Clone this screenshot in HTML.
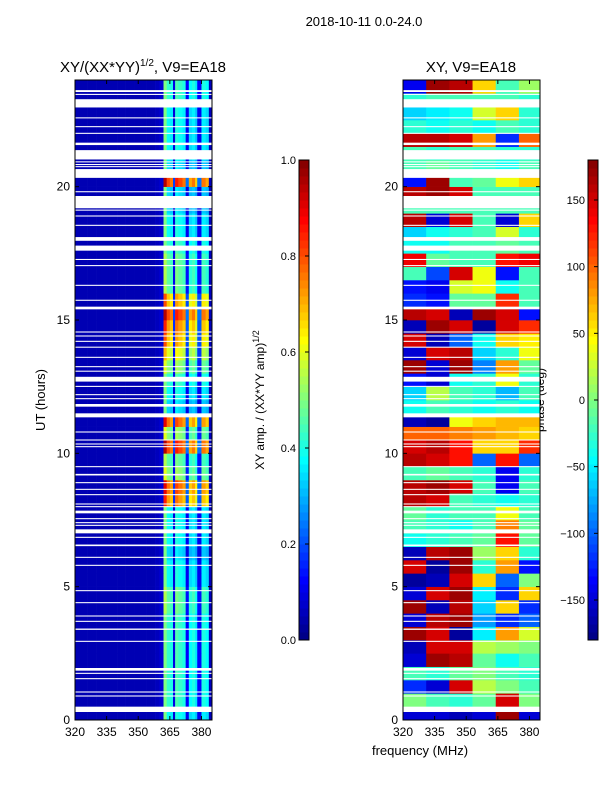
<!DOCTYPE html>
<html><head><meta charset="utf-8">
<style>
html,body{margin:0;padding:0;background:#fff;}
svg{display:block;font-family:"Liberation Sans",sans-serif;}
</style></head>
<body>
<svg id="fig" width="600" height="800" viewBox="0 0 600 800">
<text x="364" y="26" font-size="13" text-anchor="middle">2018-10-11 0.0-24.0</text>
<text x="143" y="72" font-size="15" text-anchor="middle">XY/(XX*YY)<tspan font-size="10" dy="-6">1/2</tspan><tspan dy="6">, V9=EA18</tspan></text>
<text x="471" y="72" font-size="15" text-anchor="middle">XY, V9=EA18</text>
<text transform="translate(45,400) rotate(-90)" font-size="13" text-anchor="middle">UT (hours)</text>
<text x="420" y="755" font-size="13" text-anchor="middle">frequency (MHz)</text>
<text transform="translate(264,400) rotate(-90)" font-size="12" text-anchor="middle">XY amp. / (XX*YY amp)<tspan font-size="9" dy="-5">1/2</tspan></text>
<text transform="translate(544,400) rotate(-90)" font-size="12" text-anchor="middle">phase (deg)</text>
<g id="left"></g>
<g id="right"></g>
<g id="axes"></g>
</svg>
<script>
// ---- data ----
const freqEdges = [320,322,324,326,328,330,332,334,336,338,340,342,344,346,348,350,352,354,356,358,360,362,363.5,365,366.5,367.5,369,371,372.5,374,375.5,377,378,380,382,383.5,385];
const leftProfile = [0.05,0.05,0.05,0.05,0.05,0.05,0.05,0.05,0.05,0.05,0.05,0.05,0.05,0.05,0.05,0.05,0.05,0.05,0.05,0.06,0.08,1.0,0.85,0.8,0.2,0.9,0.85,0.8,0.25,0.75,0.8,0.7,0.25,0.8,0.75,0.06];
const leftAmp = [0.45,0.5,0.5,0.5,0.5,0.5,0.5,0.5,0.55,0.55,0.45,0.45,0.4,0.45,0.45,0.45,0.85,0.9,0.6,0.55,0.95,0.6,0.9,0.4,0.45,0.5,0.6,0.7,0.8,0.85,0.95,0.8,0.55,0.55,0.55,0.5,0.45,0.45,0.4,0.4,0.95,0.4,0.45,0.45,0.45,0.45,0.5,0.5];
const phaseBands = [320,331,342,353,364,375,385];
const phase = [
[-150,-150,-160,-150,170,-150],[0,-20,-30,-10,150,0],[-120,-150,150,20,0,-20],[-20,-30,-10,0,-20,-30],
[-150,170,160,-10,-40,-20],[-160,150,150,20,10,0],[170,150,-170,-50,80,30],[-150,160,170,-80,-120,-100],
[170,-160,160,-60,60,-120],[-150,150,170,-50,-120,60],[-170,-160,150,60,-100,0],[150,-170,170,-30,80,-130],
[-160,160,170,10,60,-30],[-40,-30,-20,-10,130,-10],[-20,-30,-40,-20,90,-10],[-10,-30,-20,-20,40,-20],
[160,150,-20,-30,-40,-30],[160,170,150,-20,-140,-20],[-20,-10,-20,-30,-140,-30],[160,150,130,-100,130,-100],
[150,160,130,60,60,120],[100,100,90,80,70,60],[-160,-170,40,60,70,70],[-40,-20,-30,-40,-30,-40],
[-60,20,-20,-30,-70,-20],[-130,-150,-40,-30,40,-30],[170,-150,170,-90,80,-10],[-150,150,160,-60,-30,40],
[150,-160,-100,-40,60,50],[-160,170,150,-170,150,120],[160,150,-160,170,150,-130],[-120,-130,-10,-10,120,-20],
[-130,-140,30,40,-40,-20],[-20,-110,150,40,-130,-20],[140,-10,-20,-20,130,140],[-40,-40,-20,-20,-10,-20],
[-60,-40,-30,-20,30,-30],[160,-150,150,-20,-150,60],[-20,-20,-20,-20,-20,-20],[160,170,150,-20,-20,-20],
[-130,170,-20,-10,40,60],[-20,-10,-20,-30,-40,-20],[-20,-30,-20,-20,-30,-30],[160,160,150,80,-120,100],
[-30,-40,-30,-40,-20,-30],[-60,-50,-40,30,60,-30],[-30,-20,-20,-20,-20,-30],[-140,170,160,60,-20,10]];
const flags = [[0.3,0.5],[0.88,0.92],[1.03,1.07],[1.53,1.57],[1.73,1.77],[1.85,1.95],[2.93,2.97],[3.38,3.43],[3.68,3.72],[3.88,3.92],[4.38,4.42],[4.83,4.87],[5.78,5.82],[6.08,6.12],[6.52,6.58],[6.83,6.87],[7.0,7.15],[7.28,7.32],[7.38,7.42],[7.53,7.57],[7.75,7.85],[7.98,8.02],[8.08,8.12],[8.43,8.47],[8.63,8.67],[8.88,8.92],[9.17,9.23],[9.48,9.52],[10.23,10.27],[10.33,10.37],[10.48,10.52],[10.78,10.82],[11.35,11.5],[11.75,11.85],[12.03,12.07],[12.18,12.22],[12.49,12.53],[12.69,12.87],[13.06,13.1],[13.23,13.27],[13.58,13.62],[13.96,14.0],[14.18,14.22],[14.38,14.42],[14.53,14.57],[15.4,15.5],[15.72,15.76],[16.28,16.32],[17.02,17.06],[17.25,17.29],[17.6,17.79],[17.97,18.11],[18.53,18.57],[18.88,18.92],[19.1,19.14],[19.19,19.65],[19.79,19.83],[20.33,20.66],[20.73,20.77],[20.81,20.85],[20.91,20.95],[21.02,21.37],[21.56,21.65],[21.98,22.02],[22.23,22.27],[22.56,22.6],[22.97,23.28],[23.44,23.48],[23.55,23.62]];
const yTicks = [0,5,10,15,20];
const xTicks = [320,335,350,365,380];
const ampTicks = [0.0,0.2,0.4,0.6,0.8,1.0];
const phaseTicks = [-150,-100,-50,0,50,100,150];

// ---- helpers ----
const NS="http://www.w3.org/2000/svg";
function jet(v){v=Math.max(0,Math.min(1,v));
 const r=Math.max(0,Math.min(1,Math.min(4*v-1.5,-4*v+4.5)));
 const g=Math.max(0,Math.min(1,Math.min(4*v-0.5,-4*v+3.5)));
 const b=Math.max(0,Math.min(1,Math.min(4*v+0.5,-4*v+2.5)));
 return `rgb(${Math.round(r*255)},${Math.round(g*255)},${Math.round(b*255)})`;}
function mk(tag,attrs,parent){const e=document.createElementNS(NS,tag);for(const k in attrs)e.setAttribute(k,attrs[k]);parent.appendChild(e);return e;}
const Y0=720,Y1=80;
function yS(h){return Y0-(h/24)*(Y0-Y1);}
function xS(x0,x1){return f=>x0+(f-320)/(385-320)*(x1-x0);}
const xL=xS(75,212), xR=xS(403,540);
const nRows=leftAmp.length, rowH=24/nRows;

// ---- left heatmap ----
const gL=document.getElementById('left');
for(let r=0;r<nRows;r++){
 for(let c=0;c<leftProfile.length;c++){
  let v=leftProfile[c]<0.15?leftProfile[c]:leftProfile[c]*leftAmp[r];
  if(c===21) v=Math.max(v,0.5);
  const x=xL(freqEdges[c]), w=xL(freqEdges[c+1])-x;
  const el=mk('rect',{x:x,y:yS((r+1)*rowH),width:w+0.3,height:yS(r*rowH)-yS((r+1)*rowH)+0.3,fill:jet(v)},gL);
  
  
 }
}
// ---- right heatmap ----
const gR=document.getElementById('right');
for(let r=0;r<phase.length;r++){
 for(let c=0;c<phaseBands.length-1;c++){
  const x=xR(phaseBands[c]), w=xR(phaseBands[c+1])-x;
  const el=mk('rect',{x:x,y:yS((r+1)*rowH),width:w+0.3,height:yS(r*rowH)-yS((r+1)*rowH)+0.3,fill:jet((phase[r][c]+180)/360)},gR);
  
  
 }
}
// flags
[[gL,75,212],[gR,403,540]].forEach(([g,a,b])=>{
 flags.forEach(f=>{
  const el=mk('rect',{x:a,y:yS(f[1]),width:b-a,height:Math.max(1,yS(f[0])-yS(f[1])),fill:'#fff'},g);
  
  
 });
});

// ---- axes ----
const gA=document.getElementById('axes');
function frame(x0,x1,xs,name){
 const fr=mk('rect',{x:x0,y:Y1,width:x1-x0,height:Y0-Y1,fill:'none',stroke:'#000','stroke-width':1},gA);
 
 
 yTicks.forEach(t=>{const y=yS(t);
  mk('line',{x1:x0,y1:y,x2:x0+4,y2:y,stroke:'#000'},gA);
  mk('line',{x1:x1,y1:y,x2:x1-4,y2:y,stroke:'#000'},gA);
  const tx=mk('text',{x:x0-5,y:y+4,'font-size':12,'text-anchor':'end'},gA);tx.textContent=t;
  
  
 });
 xTicks.forEach(t=>{const x=xs(t);
  mk('line',{x1:x,y1:Y0,x2:x,y2:Y0-4,stroke:'#000'},gA);
  mk('line',{x1:x,y1:Y1,x2:x,y2:Y1+4,stroke:'#000'},gA);
  const tx=mk('text',{x:x,y:Y0+16,'font-size':12,'text-anchor':'middle'},gA);tx.textContent=t;
  
  
 });
}
frame(75,212,xL,'left-panel');frame(403,540,xR,'right-panel');

function colorbar(x,ticks,lo,hi,name,fmt){
 const top=160,bot=640,n=60;
 for(let i=0;i<n;i++){
  const el=mk('rect',{x:x,y:bot-(i+1)*(bot-top)/n,width:10,height:(bot-top)/n+0.5,fill:jet((i+0.5)/n)},gA);
  
  
 }
 mk('rect',{x:x,y:top,width:10,height:bot-top,fill:'none',stroke:'#000'},gA);
 ticks.forEach(t=>{const y=bot-(t-lo)/(hi-lo)*(bot-top);
  mk('line',{x1:x+10,y1:y,x2:x+6,y2:y,stroke:'#000'},gA);
  const tx=mk('text',{x:x-3,y:y+4,'font-size':11,'text-anchor':'end'},gA);tx.textContent=fmt(t);
  
  
 });
}
colorbar(299,ampTicks,0,1,'left-colorbar',t=>t.toFixed(1));
colorbar(588,phaseTicks,-180,180,'right-colorbar',t=>t<0?'\u2212'+(-t):String(t));
</script>
</body></html>
